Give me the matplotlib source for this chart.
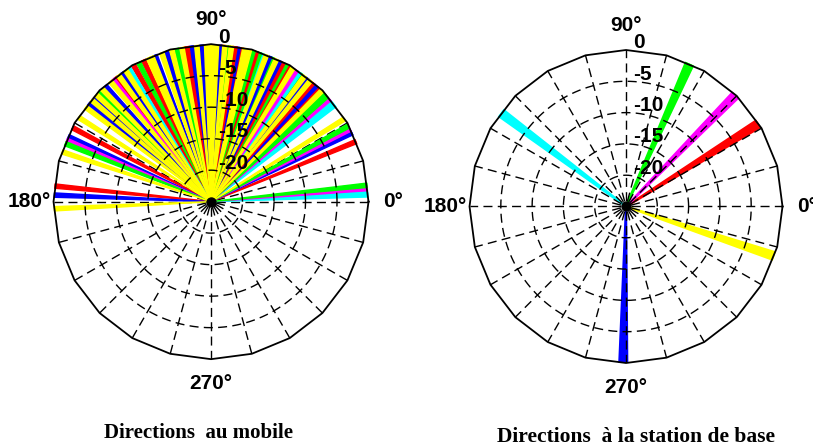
"""
Directions d'arrivee : mobile vs station de base
=================================================
Two polar plots of ray directions, radius in dB (rim = 0 dB, centre = -25 dB).
"""

import numpy as np
import matplotlib
matplotlib.use("Agg")
import matplotlib.pyplot as plt
from matplotlib.transforms import offset_copy

# rays seen at the mobile: direction in degrees and colour code
MOBILE_ANGLES = [
    2.5, 3.5, 4.8, 6.0, 22.5, 26.0, 27.5, 28.8, 31.8,
    38.0, 39.5, 40.9, 42.3, 43.6, 45.0, 46.1, 47.8, 49.4, 50.6,
    51.8, 53.3, 54.5, 55.6, 57.0, 58.5, 59.9, 61.3, 62.6, 64.0,
    65.3, 66.7, 68.0, 69.3, 70.6, 71.9, 73.2, 74.4, 75.8, 77.5,
    78.8, 80.0, 81.2, 82.5, 83.7, 84.9, 85.5, 86.7, 88.0, 89.1,
    89.8, 91.6, 93.4, 95.2, 97.1, 98.9, 100.7, 102.6, 104.5, 106.4,
    108.3, 110.9, 112.2, 113.5, 115.5, 117.5, 119.6, 121.7, 123.0, 124.6,
    126.2, 127.6, 128.8, 129.9, 132.4, 134.0, 135.7, 137.0, 138.5, 139.6,
    141.2, 143.0, 147.5, 151.9, 155.5, 157.0, 158.3, 161.5,
    174.3, 177.6, 182.6,
]
MOBILE_COLORS = list(
    "ccmgrbmgy"
    "ccmggyrbry"
    "bygcmyrgrb"
    "ygbycgrgyy"
    "rbrygyrbyc"
    "yybybrygyb"
    "ybyyrgrcyb"
    "yrmybygyby"
    "byyrbmgy"
    "rby"
)
MOBILE_LEVEL_DB = 0.0

# rays seen at the base station
BASE_ANGLES = [32.0, 45.5, 66.0, 143.2, 269.0, 341.5]
BASE_COLORS = ["r", "m", "g", "c", "b", "y"]
BASE_LEVEL_DB = 0.0

R_MIN = -25
R_TICKS = [0, -5, -10, -15, -20]
ANGLE_LABELS = {0: "0°", 90: "90°", 180: "180°", 270: "270°"}

TITLE_MOBILE = "Directions  au mobile"
TITLE_BASE = "Directions  à la station de base"

RGB = {
    "r": (1, 0, 0), "g": (0, 1, 0), "b": (0, 0, 1),
    "y": (1, 1, 0), "m": (1, 0, 1), "c": (0, 1, 1),
}

LABEL_FONT = dict(family="Liberation Sans", fontsize=15, fontweight="bold")
TITLE_FONT = dict(family="Liberation Serif", fontweight="bold")
DASH = (0, (6.5, 3.8))
SPOKE_DASH = (6.5, (6.5, 3.8))   # start with a gap so the centre shows a ring


def draw_polar(fig, rect, angles, colors, level_db, width_deg, edge_lw,
               spokes_on_top=True):
    ax = fig.add_axes(rect, projection="polar")

    # yellow rays drawn last
    order = sorted(range(len(angles)), key=lambda i: colors[i] == "y")
    theta = np.deg2rad([angles[i] for i in order])
    cols = [RGB[colors[i]] for i in order]
    ax.bar(theta, level_db - R_MIN, width=np.deg2rad(width_deg), bottom=R_MIN,
           color=cols, edgecolor=cols, linewidth=edge_lw, zorder=2)

    # dashed grid
    circ = np.linspace(0, 2 * np.pi, 361)
    for lvl in R_TICKS[1:]:
        ax.plot(circ, np.full_like(circ, lvl), color="k", lw=1, ls=DASH, zorder=3)
    spoke_z = 3 if spokes_on_top else 1.5
    for a in range(0, 360, 15):
        t = np.deg2rad(a)
        ax.plot([t, t], [R_MIN, 0], color="k", lw=1, ls=SPOKE_DASH,
                zorder=spoke_z)

    # polygonal rim
    rim = np.deg2rad(np.arange(0, 361, 15))
    ax.plot(rim, np.zeros_like(rim), color="k", lw=1.3, zorder=4, clip_on=False)
    ax.plot(0, R_MIN, "o", color="k", ms=6.5, zorder=5)

    ax.set_ylim(R_MIN, 0)
    ax.set_xticks([])
    ax.set_yticks([])
    ax.grid(False)
    ax.spines["polar"].set_visible(False)

    for a, txt in ANGLE_LABELS.items():
        ax.text(np.deg2rad(a), R_MIN + 28.9, txt, ha="center", va="center",
                clip_on=False, **LABEL_FONT)

    trans = offset_copy(ax.transData, fig=fig, x=7, y=7, units="dots")
    for lvl in R_TICKS:
        ax.text(np.pi / 2, lvl, f"{lvl:d}", transform=trans, ha="left",
                va="center", zorder=6, **LABEL_FONT)
    return ax


def main():
    fig = plt.figure(figsize=(8.13, 4.46), dpi=100)

    draw_polar(fig, [0.0658, 0.1947, 0.3875, 0.7063],
               MOBILE_ANGLES, MOBILE_COLORS, MOBILE_LEVEL_DB, 1.6, 1.0,
               spokes_on_top=False)
    draw_polar(fig, [0.5775, 0.1861, 0.3850, 0.7018],
               BASE_ANGLES, BASE_COLORS, BASE_LEVEL_DB, 2.9, 1.6)

    fig.text(0.2442, 0.0179, TITLE_MOBILE, ha="center", va="baseline",
             fontsize=15, **TITLE_FONT)
    fig.text(0.7823, 0.0096, TITLE_BASE, ha="center", va="baseline",
             fontsize=15.5, **TITLE_FONT)

    fig.savefig("out.png", dpi=100)
    plt.close(fig)


if __name__ == "__main__":
    main()
